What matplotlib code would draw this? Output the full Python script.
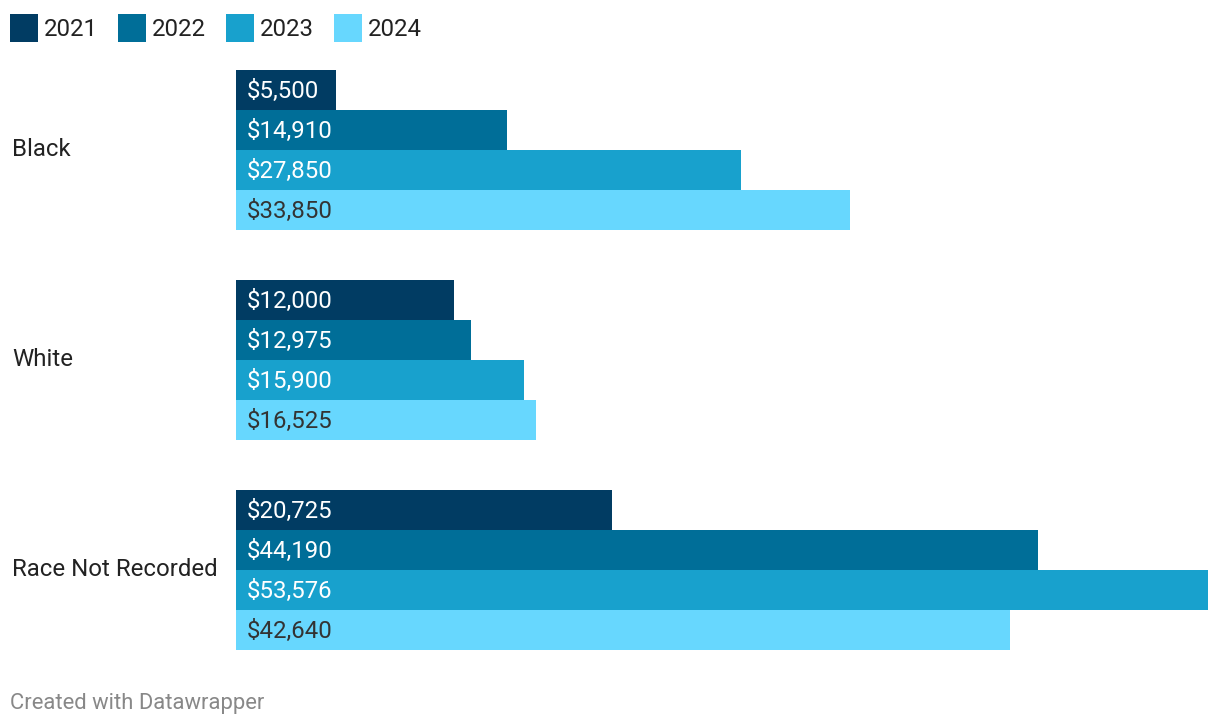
import matplotlib
matplotlib.use("Agg")
import matplotlib.pyplot as plt
from matplotlib.patches import Rectangle

plt.rcParams['font.family'] = ['Roboto', 'DejaVu Sans']

categories = ["Black", "White", "Race Not Recorded"]
years = ["2021", "2022", "2023", "2024"]
values = {
    "2021": [5500, 12000, 20725],
    "2022": [14910, 12975, 44190],
    "2023": [27850, 15900, 53576],
    "2024": [33850, 16525, 42640],
}
colors = ["#013c63", "#006e98", "#18a1cd", "#67d7fe"]
label_colors = ["white", "white", "white", "#333333"]

W, H = 1220, 726
fig = plt.figure(figsize=(W / 100, H / 100), dpi=100)
FS = 24 * 72 / 100  # 24px

ax_left, ax_right, ax_top, ax_bot = 236, 1208, 70, 650
ax = fig.add_axes([ax_left / W, 1 - ax_bot / H, (ax_right - ax_left) / W, (ax_bot - ax_top) / H])
ax.set_axis_off()

group_step = 5.25
xmax = max(max(v) for v in values.values())
ax.set_xlim(0, xmax)
ax.set_ylim(len(categories) * group_step - (group_step - len(years)), 0)

for j, yr in enumerate(years):
    for i, cat in enumerate(categories):
        y = i * group_step + j + 0.5
        v = values[yr][i]
        ax.barh(y, v, height=1.0, color=colors[j], linewidth=0)
        ax.annotate(f"${v:,}", xy=(0, y), xytext=(11, -1), textcoords="offset pixels",
                    ha="left", va="center", fontsize=FS, color=label_colors[j])

for i, cat in enumerate(categories):
    yc = i * group_step + len(years) / 2
    ax.annotate(cat, xy=(0, yc), xycoords=("figure pixels", "data"), xytext=(12, 1),
                textcoords="offset pixels", ha="left", va="center", fontsize=FS, color="#222222")

# legend
for k, yr in enumerate(years):
    x0 = 10 + k * 108
    fig.patches.append(Rectangle((x0 / W, 1 - 42 / H), 28 / W, 28 / H,
                                 transform=fig.transFigure, facecolor=colors[k], edgecolor="none"))
    fig.text((x0 + 34) / W, 1 - 29.5 / H, yr, ha="left", va="center", fontsize=FS, color="#222222")

fig.text(10 / W, 1 - 703 / H, "Created with Datawrapper", ha="left", va="center",
         fontsize=22 * 72 / 100, color="#888888")

fig.savefig("out.png", dpi=100)
